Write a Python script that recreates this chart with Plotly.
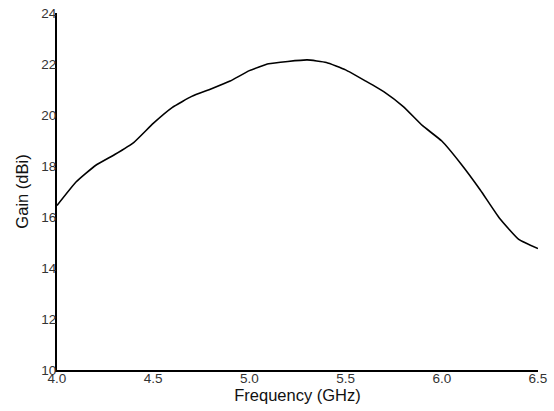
import plotly.graph_objects as go

freq_ghz = [4.0, 4.1, 4.2, 4.3, 4.4, 4.5, 4.6, 4.7, 4.8, 4.9, 5.0, 5.1, 5.2,
            5.3, 5.4, 5.5, 5.6, 5.7, 5.8, 5.9, 6.0, 6.1, 6.2, 6.3, 6.4, 6.5]
gain_dbi = [16.45, 17.38, 18.02, 18.45, 18.93, 19.67, 20.30, 20.73, 21.02, 21.33,
            21.74, 22.01, 22.10, 22.16, 22.06, 21.77, 21.35, 20.91, 20.33, 19.58,
            18.98, 18.08, 17.06, 15.95, 15.12, 14.76]
x_ticks = [4.0, 4.5, 5.0, 5.5, 6.0, 6.5]
x_tick_labels = ["4.0", "4.5", "5.0", "5.5", "6.0", "6.5"]
y_ticks = [10, 12, 14, 16, 18, 20, 22, 24]

fig = go.Figure()
fig.add_trace(go.Scatter(x=freq_ghz, y=gain_dbi, mode="lines",
                         line=dict(color="black", width=1.6, shape="spline", smoothing=0.4),
                         showlegend=False, hoverinfo="skip"))

font = "Liberation Sans, Arial, sans-serif"
fig.update_layout(
    width=554, height=411,
    margin=dict(l=57, r=16, t=13, b=41),
    paper_bgcolor="white", plot_bgcolor="white",
    font=dict(family=font, color="#222", size=13),
    xaxis=dict(range=[4.0, 6.5], tickvals=x_ticks, ticktext=x_tick_labels,
               showgrid=False, zeroline=False, showline=True, linecolor="black",
               linewidth=2, ticks="", ticklabelstandoff=-5, automargin=False,
               ticklabeloverflow="allow",
               tickfont=dict(size=13.5, color="#333"),
               title=dict(text="Frequency (GHz)", font=dict(size=16.5, color="#111"), standoff=4)),
    yaxis=dict(range=[10, 24], tickvals=y_ticks,
               showgrid=False, zeroline=False, showline=True, linecolor="black",
               linewidth=2, ticks="", ticklabelstandoff=-4, automargin=False,
               ticklabeloverflow="allow",
               tickfont=dict(size=13.5, color="#333"),
               title=dict(text="Gain (dBi)", font=dict(size=16.5, color="#111"), standoff=8)),
)

fig.write_html("out.html", config={"displayModeBar": False},
               post_script="document.body.style.margin='0px';")
